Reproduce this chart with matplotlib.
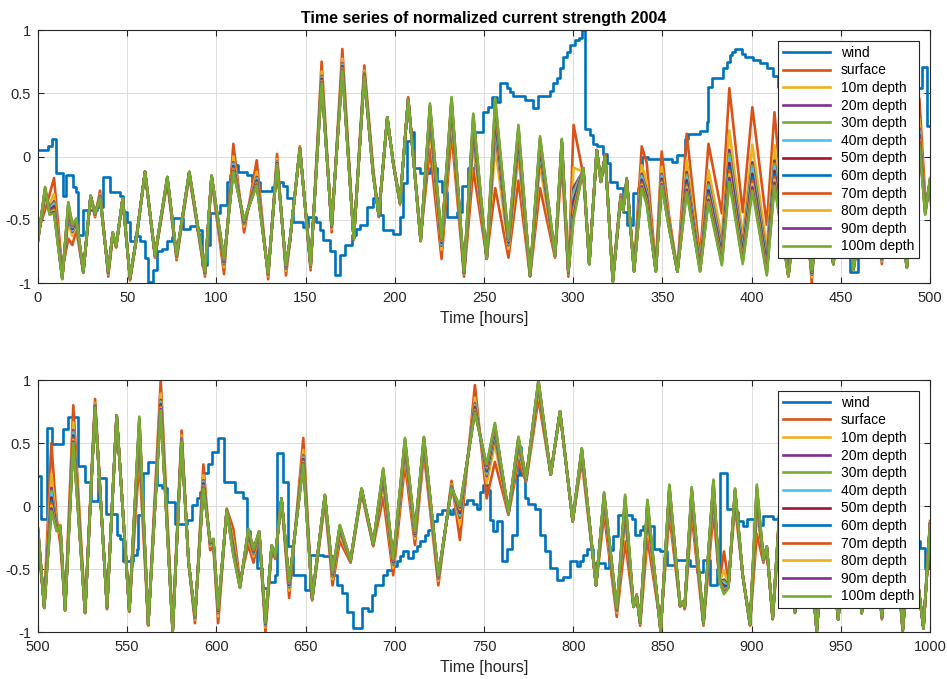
""" Normalized current strength 2004 - wind and current at depth """
import numpy as np
import matplotlib
matplotlib.use('Agg')
import matplotlib.pyplot as plt

plt.rcParams['font.family'] = ['Liberation Sans', 'DejaVu Sans']

#%%
# Extrema of the current curves (hours)
ext_hours = [0, 4, 6.5, 9, 13.6, 17, 19.3, 21.5, 25.4, 29.5, 32, 34.8, 39.4, 41.9, 43.8, 47.5,
             51.6, 55, 60, 65.6, 72.5, 77.7, 84.8, 93.6, 97.3, 104.3, 109.5, 115.5, 122.6, 129,
             134, 139, 141.2, 146.8, 152.8, 159, 164.6, 170.6, 177, 182.9, 187.9, 191, 195.8,
             199.1, 202.9, 207.5, 214.5, 219.7, 226.2, 231.8, 238.8, 244, 251.5, 256.3, 263.7,
             269.3, 275.8, 281.4, 289.8, 293.6, 297.3, 300.2, 305.7, 309, 313.2, 315.5, 317.9,
             322.2, 326.6, 328, 330, 334.1, 338.4, 341.2, 346.3, 349.6, 353.5, 358.4, 363.6,
             371.1, 375.8, 383.3, 387.5, 395, 400.4, 408.5, 412.8, 420.6, 427, 433.7, 440,
             445.8, 451.5, 457, 465, 473, 480, 487, 494, 497.3,
             500, 503.5, 507.5, 510.5, 512.5, 515.2, 519.8, 526.4, 532, 538.7, 544.1, 551.2,
             556.8, 561.8, 568.8, 575.5, 580.5, 584.4, 588, 592.7, 596.5, 598.3, 601, 605.8,
             609.5, 613.2, 617.9, 620.8, 624, 627.5, 631, 633, 636.5, 640.8, 648.7, 653.7,
             660.8, 665.1, 669.2, 675.2, 681.4, 687.9, 693.5, 699.1, 705.7, 711.3, 716.3,
             724.4, 731.8, 736.5, 744.9, 751.5, 756.1, 763.7, 769.3, 773.6, 780.5, 787.4,
             792.6, 799.7, 804.8, 812.8, 817.3, 824.4, 829.1, 833.8, 835.6, 837.5, 841.6,
             849, 853.9, 859.9, 861.3, 862.5, 866.4, 873, 878.6, 882, 884.5, 887, 890.7, 895,
             899.1, 902.9, 906.6, 908.5, 911.8, 916, 924.3, 930, 936.5, 942, 948.5, 955,
             961.7, 967, 973, 979, 984.7, 989, 992.7, 996.3, 1000]

# 100m depth (green curve, drawn on top)
depth100 = [-0.67, -0.24, -0.46, -0.45, -0.97, -0.36, -0.54, -0.49, -0.91, -0.31, -0.45, -0.33,
            -0.91, -0.6, -0.71, -0.33, -0.96, -0.67, -0.12, -0.78, -0.16, -0.78, -0.12, -0.91,
            -0.15, -0.81, -0.12, -0.5, -0.23, -0.92, -0.07, -0.86, -0.66, 0.06, -0.86, 0.58,
            -0.54, 0.68, -0.65, 0.63, -0.15, -0.46, 0.31, -0.05, -0.36, 0.45, -0.67, 0.42,
            -0.65, 0.47, -0.91, 0.34, -0.81, 0.46, -0.65, 0.25, -0.94, 0.16, -0.78, 0.14,
            -0.91, -0.5, -0.09, -0.85, 0.05, -0.2, 0.0, -0.99, -0.33, -0.43, -0.19, -0.91,
            -0.25, -0.38, -0.91, -0.23, -0.55, -0.91, -0.28, -0.91, -0.36, -0.86, -0.2, -0.85,
            -0.27, -0.94, -0.23, -0.95, -0.2, -0.9, -0.2, -0.85, -0.2, -0.9, -0.2, -0.8, -0.2,
            -0.88, 0.1, -0.46,
            -0.17, -0.81, -0.04, -0.2, -0.15, -0.83, 0.5, -0.85, 0.78, -0.8, 0.72, -0.83,
            0.71, -0.94, 0.76, -1.0, 0.51, -0.44, -0.87, 0.14, -0.28, -0.26, -0.81, -0.04,
            -0.39, -0.65, -0.18, -0.34, -0.2, -0.92, -0.31, -0.4, 0.06, -0.6, 0.33, -0.73,
            0.09, -0.52, -0.15, -0.43, 0.14, -0.3, 0.3, -0.42, 0.54, -0.2, 0.55,
            -0.55, 0.14, 0.0, 0.74, 0.33, 0.66, -0.05, 0.55, 0.22, 1.0, 0.25,
            0.75, -0.12, 0.46, -0.63, 0.11, -0.81, 0.09, -0.8, -0.72, -0.92, 0.05,
            -1.0, 0.17, -0.79, -0.76, -0.8, 0.15, -0.92, 0.21, -0.6, -0.7, -0.65, 0.14, -0.55,
            -0.94, 0.17, -0.42, -0.32, -0.89, 0.05, -0.84, 0.1, -1.0, 0.1, -0.9, 0.1,
            -0.85, 0.1, -0.88, 0.05, -0.98, -0.2, -0.55, -0.97, -0.15]

# surface (orange curve)
surface = [-0.6, -0.42, -0.3, -0.17, -0.9, -0.65, -0.7, -0.58, -0.92, -0.32, -0.48, -0.27,
           -0.95, -0.62, -0.72, -0.33, -0.98, -0.65, -0.12, -0.8, -0.2, -0.82, -0.15, -0.95,
           -0.18, -0.93, 0.1, -0.6, -0.03, -0.97, 0.02, -0.94, -0.68, 0.08, -0.9, 0.75,
           -0.6, 0.85, -0.66, 0.72, -0.1, -0.48, 0.3, -0.05, -0.38, 0.47, -0.64, 0.06,
           -0.81, 0.19, -0.95, -0.1, -0.8, -0.25, -0.8, -0.19, -0.95, -0.25, -0.8, -0.05,
           -0.95, 0.25, -0.15, -0.85, 0.05, -0.2, 0.02, -0.95, -0.3, -0.4, -0.17, -0.88,
           0.08, -0.05, -0.88, 0.04, -0.45, -0.9, 0.18, -0.8, 0.1, -0.45, 0.54, -0.44,
           0.39, -0.54, 0.35, -0.9, 0.3, -1.0, 0.3, -0.85, 0.3, -0.9, 0.3, -0.85, 0.35,
           -0.84, 0.46, -0.32,
           -0.3, -0.78, 0.5, -0.1, -0.3, -0.8, 0.8, -0.83, 0.85, -0.82, 0.72, -0.84,
           0.38, -0.95, 1.0, -0.97, 0.6, -0.45, -0.93, 0.33, -0.35, -0.32, -0.93, -0.02,
           -0.18, -0.6, -0.31, -0.45, -0.23, -1.0, -0.35, -0.42, 0.05, -0.73, 0.54, -0.75,
           0.03, -0.63, -0.28, -0.45, 0.1, -0.32, 0.07, -0.55, 0.33, -0.31, 0.42,
           -0.63, 0.2, -0.27, 0.96, 0.06, 0.35, -0.07, 0.35, 0.19, 0.85, 0.25,
           0.75, -0.12, 0.36, -0.63, -0.07, -0.88, -0.28, -0.8, -0.7, -0.95, -0.26,
           -0.95, -0.07, -0.8, -0.76, -0.82, -0.07, -0.95, -0.05, -0.6, -0.36, -0.6, 0.0, -0.55,
           -0.95, -0.22, -0.45, -0.35, -0.9, -0.1, -0.85, 0.0, -0.98, 0.0, -0.9, 0.0,
           -0.85, 0.0, -0.9, 0.0, -1.0, -0.25, -0.55, -0.97, -0.12]

# where each depth sits between surface (0) and 100m (1)
depth_labels = ['10m depth', '20m depth', '30m depth', '40m depth', '50m depth',
                '60m depth', '70m depth', '80m depth', '90m depth']
depth_frac = [0.45, 0.66, 0.7, 0.74, 0.8, 0.84, 0.88, 0.92, 0.96]

# wind (step changes)
wind_hours = [0, 5.8, 7.7, 10.1, 14.2, 15.7, 19.8, 21.3, 22.6, 25.4, 32.9, 36.6, 40.4, 46,
              47.8, 49.7, 51.6, 54.4, 57.2, 60, 61.8, 64.6, 66.5, 69.3, 72.1, 74.9, 75.9,
              81.5, 85.2, 88.9, 91.7, 94.5, 96.4, 102, 105.8, 107.6, 110.4, 112.3, 117,
              119.8, 124.4, 131, 132.8, 137.5, 139.4, 143, 148.7, 151.5, 156, 158, 160,
              163.6, 166.4, 169.2, 172, 175.8, 178, 180.5, 184.2, 188, 191.7, 193.5, 199,
              202.9, 204.7, 206.6, 209.4, 210.7, 214, 219.7, 223.4, 226.2, 229, 234.6,
              237.4, 241.2, 245, 249.6, 252.4, 254.3, 257.1, 259, 262.7, 264.6, 266.5, 273,
              277.7, 280.5, 287, 288.9, 290.7, 292.6, 294.5, 296.4, 298.2, 301, 303, 304.8,
              306.6, 309.5, 311.3, 313.2, 316.9, 318.8, 320.7, 324.4, 328.1, 330, 333.7,
              336.5, 338.4, 342, 355.2, 358, 362.7, 364.6, 371.1, 374.9, 375.8, 377.7,
              384.2, 386, 387.9, 388.8, 390.7, 394.4, 396.3, 401, 404.7, 408.5, 412.2, 415,
              420, 425, 430, 435, 440, 445, 450, 455, 459.5, 465, 472, 480, 487, 491, 495.3,
              498.1,
              500, 501.5, 505, 507.9, 514.2, 517.1, 522.5, 526.5, 529.8, 533.8, 538.4,
              544.1, 546, 547.8, 553.4, 555.3, 556.2, 559, 561.8, 566.5, 569.3, 572.1,
              576.8, 583.3, 586.1, 588.9, 590.8, 592.7, 595.5, 597.3, 601.1, 604.5, 610.4,
              615.1, 617, 618.8, 622.6, 625.4, 629, 632.8, 633.7, 637.5, 640.3, 643.1,
              649.6, 652.4, 659.9, 665.5, 667.4, 670.2, 673.4, 676.3, 681.4, 685.1, 687,
              688.9, 693.5, 695.4, 698.2, 701, 702.9, 704.7, 707.5, 710.4, 712.2, 714.1,
              716.9, 718.8, 721.6, 723.4, 726.2, 730.9, 732.8, 736.5, 740.2, 744, 745.9,
              747.7, 749.6, 752.4, 753.3, 755.2, 757.1, 759.9, 762.7, 765.5, 768.3, 769.5,
              771, 773, 774.9, 778.6, 781.4, 784.2, 787, 790.8, 794.5, 798.2, 802, 803.8,
              805.7, 807.6, 811.3, 817.9, 820, 822.5, 825.3, 832.8, 834.7, 837.5, 839.3,
              845, 848.7, 852.4, 857.1, 865.5, 869.2, 873, 876.7, 880.5, 882.3, 886, 889.8,
              892.6, 895.4, 897.3, 903.8, 906.6, 912.2, 915, 925, 935, 945, 955, 965, 975,
              985, 992.7, 994.4, 997.2, 999.6, 1000]
wind_vals = [0.05, 0.08, 0.14, -0.13, -0.31, -0.15, -0.24, -0.28, -0.62, -0.42, -0.4, -0.16,
             -0.28, -0.31, -0.44, -0.52, -0.67, -0.63, -0.67, -0.8, -0.99, -0.9, -0.75,
             -0.73, -0.67, -0.64, -0.49, -0.57, -0.55, -0.58, -0.86, -0.7, -0.45, -0.38,
             -0.2, -0.15, -0.07, -0.12, -0.15, -0.2, -0.27, -0.24, -0.2, -0.23, -0.33,
             -0.52, -0.56, -0.48, -0.52, -0.58, -0.66, -0.75, -0.94, -0.78, -0.7, -0.62,
             -0.57, -0.54, -0.4, -0.33, -0.46, -0.58, -0.61, -0.48, -0.21, 0.12, 0.19,
             -0.09, -0.13, -0.09, -0.19, -0.28, -0.48, -0.44, -0.23, -0.09, 0.19, 0.35,
             0.39, 0.47, 0.43, 0.58, 0.54, 0.51, 0.48, 0.45, 0.38, 0.48, 0.52, 0.58, 0.62,
             0.7, 0.79, 0.83, 0.88, 0.92, 0.94, 1.0, 0.22, 0.17, 0.1, 0.08, 0.02, -0.05,
             -0.2, -0.25, -0.44, -0.54, -0.29, -0.25, 0.0, -0.02, -0.04, 0.01, 0.14, 0.18,
             0.2, 0.27, 0.55, 0.62, 0.7, 0.75, 0.8, 0.83, 0.85, 0.81, 0.79, 0.76, 0.74, 0.7,
             0.64, 0.55, 0.4, 0.2, 0.0, -0.2, -0.4, -0.6, -0.75, -0.91, -0.75, -0.5, -0.2,
             0.1, 0.35, 0.54, 0.71, 0.24,
             0.24, -0.1, 0.62, 0.49, 0.61, 0.71, 0.32, 0.19, 0.04, 0.22, -0.06, -0.23,
             -0.26, -0.44, -0.39, -0.34, -0.07, 0.26, 0.35, 0.17, 0.14, 0.03, -0.14, -0.11,
             0.01, 0.06, 0.11, 0.26, 0.33, 0.43, 0.54, 0.19, 0.11, 0.06, -0.2, -0.29,
             -0.49, -0.65, -0.6, -0.55, 0.42, 0.19, -0.32, -0.55, -0.67, -0.39, -0.4,
             -0.55, -0.63, -0.69, -0.84, -0.97, -0.81, -0.83, -0.71, -0.63, -0.55, -0.51,
             -0.48, -0.44, -0.4, -0.36, -0.41, -0.36, -0.32, -0.28, -0.23, -0.19, -0.12,
             -0.06, -0.03, -0.06, -0.02, 0.02, 0.05, 0.02, -0.02, 0.11, 0.17, 0.13, -0.11,
             -0.2, -0.12, -0.44, -0.34, -0.23, 0.25, 0.47, 0.25, 0.06, 0.02, -0.02, -0.23,
             -0.36, -0.49, -0.59, -0.56, -0.44, -0.48, -0.44, -0.39, -0.34, -0.45, -0.49,
             -0.35, -0.24, -0.07, -0.1, -0.23, -0.19, -0.16, -0.34, -0.36, -0.47, -0.43,
             -0.48, -0.52, -0.43, -0.63, -0.5, 0.26, -0.02, -0.05, -0.12, -0.16, -0.1,
             -0.15, -0.08, -0.1, -0.14, -0.18, -0.22, -0.25, -0.2, -0.28, -0.25, -0.28,
             -0.28, -0.33, -0.49, -0.15, -0.15]

# matlab default colour order
colors = ['#0072BD', '#D95319', '#EDB120', '#7E2F8E', '#77AC30', '#4DBEEE', '#A2142F']

#%%
fig = plt.figure(figsize=(9.47, 6.79), dpi=100)
ax_top = fig.add_axes([0.0401, 0.5832, 0.942, 0.3726])
ax_bot = fig.add_axes([0.0401, 0.0692, 0.942, 0.3711])

surf = np.array(surface)
d100 = np.array(depth100)

for ax, xlim in [(ax_top, (0, 500)), (ax_bot, (500, 1000))]:
    ax.plot(wind_hours, wind_vals, drawstyle='steps-post', color=colors[0], lw=1.9,
            label='wind', solid_joinstyle='round')
    ax.plot(ext_hours, surf, color=colors[1], lw=1.9, label='surface',
            solid_joinstyle='round')
    for i, (lab, f) in enumerate(zip(depth_labels, depth_frac)):
        ax.plot(ext_hours, surf + f * (d100 - surf), color=colors[(i + 2) % 7],
                lw=1.9, label=lab, solid_joinstyle='round')
    ax.plot(ext_hours, d100, color=colors[11 % 7], lw=1.9, label='100m depth',
            solid_joinstyle='round')

    ax.set_xlim(*xlim)
    ax.set_ylim(-1, 1)
    ax.set_xticks(np.arange(xlim[0], xlim[1] + 1, 50))
    ax.set_yticks([-1, -0.5, 0, 0.5, 1])
    ax.set_yticklabels(['-1', '-0.5', '0', '0.5', '1'])
    ax.grid(True, color='#dcdcdc', lw=0.7)
    ax.set_axisbelow(True)
    ax.tick_params(direction='in', top=True, right=True, length=4, labelsize=10.5,
                   colors='#262626')
    ax.tick_params(axis='x', pad=6)
    ax.tick_params(axis='y', pad=5)
    for sp in ax.spines.values():
        sp.set_color('#262626')
        sp.set_linewidth(0.8)
    ax.set_xlabel('Time [hours]', fontsize=11.5, color='#262626', labelpad=4)
    leg = ax.legend(loc='upper right', bbox_to_anchor=(0.988, 0.957), borderaxespad=0,
                    fontsize=10, handlelength=3.4, labelspacing=0.26, fancybox=False,
                    framealpha=1, edgecolor='#262626', borderpad=0.35)
    leg.get_frame().set_linewidth(0.8)

ax_top.set_title('Time series of normalized current strength 2004', fontsize=11.5,
                 fontweight='bold', pad=5)

plt.savefig('out.png', dpi=100)
